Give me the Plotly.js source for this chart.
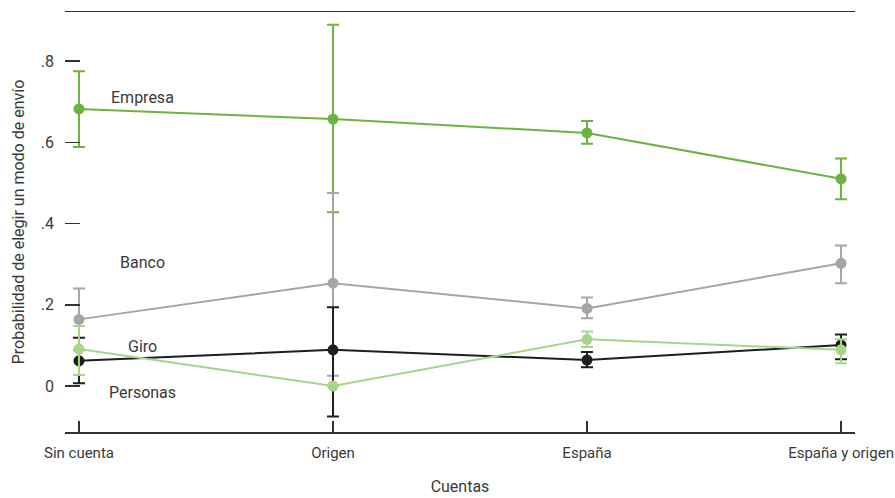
<!DOCTYPE html>
<html>
<head>
<meta charset="utf-8">
<script src="https://cdn.plot.ly/plotly-3.0.1.min.js"></script>
<style>html,body{margin:0;padding:0;background:#fff}#chart{width:895px;height:498px}</style>
</head>
<body>
<div id="chart"></div>
<script>
const categories = ["Sin cuenta", "Origen", "España", "España y origen"];

const seriesNames = ["Empresa", "Banco", "Giro", "Personas"];
const seriesColors = ["#6db33f", "#a6a6a6", "#1e1e1e", "#a8d58a"];

const empresa = [0.682, 0.657, 0.623, 0.510];
const empresaUp = [0.775, 0.889, 0.652, 0.560];
const empresaLo = [0.588, 0.428, 0.596, 0.460];

const banco = [0.164, 0.253, 0.191, 0.302];
const bancoUp = [0.240, 0.475, 0.218, 0.346];
const bancoLo = [0.088, 0.025, 0.167, 0.253];

const giro = [0.062, 0.089, 0.064, 0.101];
const giroUp = [0.119, 0.194, 0.084, 0.127];
const giroLo = [0.007, -0.075, 0.046, 0.066];

const personas = [0.091, 0.000, 0.115, 0.089];
const personasUp = [0.148, 0.000, 0.134, 0.115];
const personasLo = [0.027, 0.000, 0.096, 0.056];

const labelX = [0.25, 0.25, 0.25, 0.25];
const labelY = [0.711, 0.305, 0.098, -0.017];

const yTickVals = [0, 0.2, 0.4, 0.6, 0.8];
const yTickText = ["0", ".2", ".4", ".6", ".8"];

const values = [empresa, banco, giro, personas];
const ups = [empresaUp, bancoUp, giroUp, personasUp];
const los = [empresaLo, bancoLo, giroLo, personasLo];

const xIdx = categories.map((c, i) => i);

const traces = values.map((v, k) => ({
  type: "scatter",
  mode: "lines+markers",
  x: xIdx,
  y: v,
  name: seriesNames[k],
  line: {color: seriesColors[k], width: 2},
  marker: {color: seriesColors[k], size: 11},
  error_y: {
    type: "data",
    symmetric: false,
    array: v.map((val, i) => ups[k][i] - val),
    arrayminus: v.map((val, i) => val - los[k][i]),
    color: seriesColors[k],
    thickness: 2,
    width: 6
  },
  showlegend: false,
  hoverinfo: "x+y"
}));

const font = "Roboto, 'Liberation Sans Narrow', sans-serif";
const fs = 16;
const fc = "#3a3a3a";

const annotations = seriesNames.map((n, k) => ({
  x: labelX[k], y: labelY[k], xref: "x", yref: "y",
  text: n, showarrow: false, xanchor: "center", yanchor: "middle",
  font: {family: font, size: fs, color: fc}
}));

const layout = {
  width: 895, height: 498,
  margin: {l: 65, r: 40, t: 12, b: 66},
  paper_bgcolor: "#fff", plot_bgcolor: "#fff",
  font: {family: font, size: fs, color: fc},
  xaxis: {
    range: [-0.055, 3.055],
    tickvals: xIdx, ticktext: categories,
    showgrid: false, zeroline: false,
    showline: true, mirror: true, linecolor: "#333", linewidth: 1.5,
    ticks: "inside", ticklen: 11, tickcolor: "#333", tickwidth: 1.5,
    ticklabeloverflow: "allow",
    ticklabelstandoff: 6,
    tickfont: {family: font, size: 15, color: fc},
    title: {text: "Cuentas", font: {family: font, size: fs, color: fc}, standoff: 20}
  },
  yaxis: {
    range: [-0.1132, 0.9206],
    tickvals: yTickVals, ticktext: yTickText,
    showgrid: false, zeroline: false, showline: false,
    ticks: "inside", ticklen: 15, tickcolor: "#333", tickwidth: 1.5,
    ticklabelstandoff: 10,
    tickfont: {family: font, size: fs, color: fc},
    title: {text: "Probabilidad de elegir un modo de envío", font: {family: font, size: fs, color: fc}, standoff: 12}
  },
  annotations: annotations
};

Plotly.newPlot("chart", traces, layout, {displayModeBar: false, staticPlot: true});
</script>
</body>
</html>
